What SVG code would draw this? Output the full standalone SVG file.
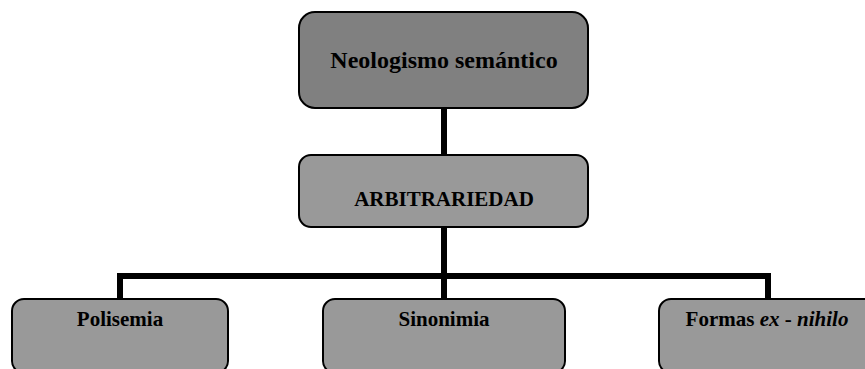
<svg xmlns="http://www.w3.org/2000/svg" width="865" height="369" viewBox="0 0 865 369">
<style>
.box{stroke:#000;stroke-width:2}
.dark{fill:#808080}
.light{fill:#999999}
.t{font-family:"Liberation Serif","Times New Roman",serif;font-weight:bold;fill:#000;text-anchor:middle}
.conn{fill:none;stroke:#000;stroke-width:6}
</style>
<rect width="865" height="369" fill="#fff"/>
<g id="connectors">
<line class="conn" x1="444" y1="108" x2="444" y2="155"/>
<line class="conn" x1="444" y1="227" x2="444" y2="299"/>
<polyline class="conn" points="120,299 120,276 768,276 768,299"/>
</g>
<g id="n-neologismo">
<rect class="box dark" x="299" y="12" width="289" height="96" rx="16"/>
<text class="t" x="444" y="68" font-size="24">Neologismo semántico</text>
</g>
<g id="n-arbitrariedad">
<rect class="box light" x="299" y="155" width="289" height="72" rx="12"/>
<text class="t" x="444" y="206" font-size="21">ARBITRARIEDAD</text>
</g>
<g id="n-polisemia">
<rect class="box light" x="12" y="299" width="216" height="74" rx="12"/>
<text class="t" x="120" y="326" font-size="21">Polisemia</text>
</g>
<g id="n-sinonimia">
<rect class="box light" x="323" y="299" width="242" height="74" rx="12"/>
<text class="t" x="444" y="326" font-size="21">Sinonimia</text>
</g>
<g id="n-formas">
<rect class="box light" x="659" y="299" width="230" height="74" rx="12"/>
<text class="t" x="767" y="326" font-size="21">Formas <tspan font-style="italic">ex</tspan> - <tspan font-style="italic">nihilo</tspan></text>
</g>
</svg>
